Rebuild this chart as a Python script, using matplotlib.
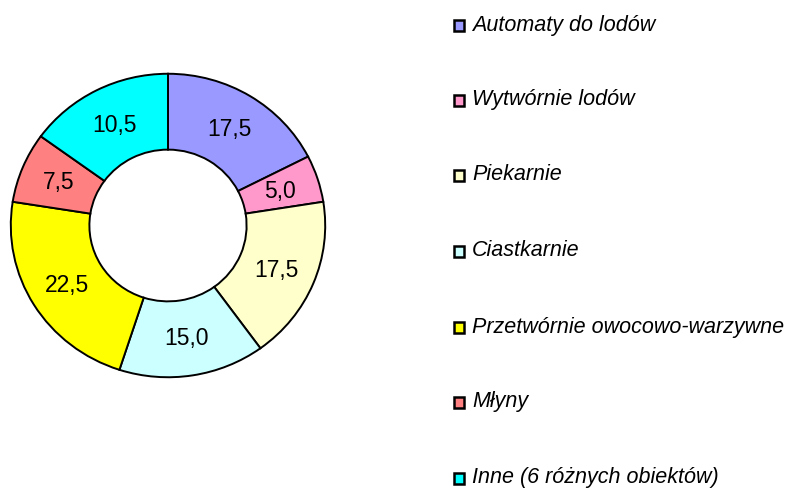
import matplotlib
matplotlib.use("Agg")
import matplotlib.pyplot as plt
from matplotlib.patches import Rectangle

categories = ["Automaty do lodów", "Wytwórnie lodów", "Piekarnie", "Ciastkarnie",
              "Przetwórnie owocowo-warzywne", "Młyny", "Inne (6 różnych obiektów)"]
# wedge sizes as drawn in the picture (percent of the ring)
values = [17.5, 5.0, 17.5, 15.0, 22.5, 7.5, 15.0]
# numbers printed on the wedges
value_labels = ["17,5", "5,0", "17,5", "15,0", "22,5", "7,5", "10,5"]
colors = ["#9999FF", "#FF99CC", "#FFFFCC", "#CCFFFF", "#FFFF00", "#FF8080", "#00FFFF"]

plt.rcParams['font.family'] = ['Liberation Sans', 'DejaVu Sans']

W, H = 791, 489
fig = plt.figure(figsize=(W / 100, H / 100), dpi=100)
fig.patch.set_facecolor("white")

# pie axes: outer ring spans x 10..326, y 74..379 (pixels)
ax = fig.add_axes([10 / W, (H - 379) / H, 316 / W, 305 / H])
wedges, texts = ax.pie(
    values, colors=colors, startangle=90, counterclock=False,
    radius=1.0, labels=value_labels, labeldistance=0.75,
    wedgeprops=dict(width=0.5, edgecolor="black", linewidth=1.4),
    textprops=dict(fontsize=16.5, color="black"))
for t in texts:
    t.set_ha("center")
    t.set_va("center")
ax.set_aspect("auto")
ax.set_xlim(-1.005, 1.005)
ax.set_ylim(-1.005, 1.005)
ax.axis("off")

# legend drawn manually
row_y = [25, 100, 175, 251, 327, 402, 478]
for cat, col, y in zip(categories, colors, row_y):
    s = 10.5
    fig.patches.append(Rectangle((453.5 / W, (H - y - 1.5 - s / 2) / H), s / W, s / H,
                                 transform=fig.transFigure, facecolor=col,
                                 edgecolor="black", linewidth=1.8))
    fig.text(472 / W, (H - y) / H, cat, fontsize=15.5, style="italic",
             va="center", ha="left")

fig.savefig("out.png", dpi=100)
